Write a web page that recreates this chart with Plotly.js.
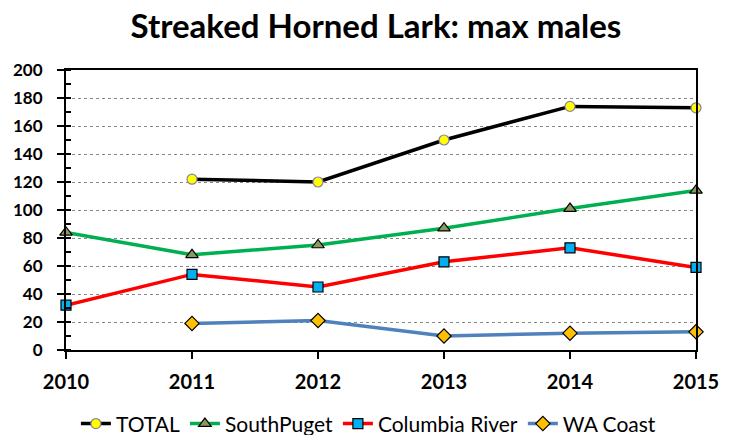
<!DOCTYPE html>
<html><head><meta charset="utf-8">
<script src="https://cdn.plot.ly/plotly-3.0.1.min.js"></script>
<style>html,body{margin:0;padding:0;background:#fff;}#chart{width:729px;height:435px;}</style>
</head><body><div id="chart"></div>
<script>
const years = [2010, 2011, 2012, 2013, 2014, 2015];
const total = [null, 122, 120, 150, 174, 173];
const southPuget = [84, 68, 75, 87, 101, 114];
const columbiaRiver = [32, 54, 45, 63, 73, 59];
const waCoast = [null, 19, 21, 10, 12, 13];
const seriesNames = ["TOTAL", "SouthPuget", "Columbia River", "WA Coast"];
const yTicks = [0, 20, 40, 60, 80, 100, 120, 140, 160, 180, 200];

function tr(name, y, lineColor, sym, fill, outline, size) {
  return {x: years, y: y, name: name, type: 'scatter', mode: 'lines+markers',
    line: {color: lineColor, width: 3.5}, connectgaps: false, cliponaxis: false,
    marker: {symbol: sym, color: fill, size: size, line: {color: outline, width: 1.2}}};
}
const data = [
  tr(seriesNames[0], total, '#000000', 'circle', '#FFFF00', '#8c7f9a', 10),
  tr(seriesNames[1], southPuget, '#00B050', 'triangle-up', '#8A9A5B', '#000000', 11),
  tr(seriesNames[2], columbiaRiver, '#FF0000', 'square', '#00B0F0', '#000000', 10),
  tr(seriesNames[3], waCoast, '#4F81BD', 'diamond', '#FFC000', '#000000', 11)
];
const layout = {
  width: 729, height: 435,
  margin: {l: 66, r: 33, t: 70, b: 85, autoexpand: false},
  paper_bgcolor: '#fff', plot_bgcolor: '#fff',
  font: {family: 'Lato, "Open Sans", sans-serif', color: '#000'},
  title: {text: '<b>Streaked Horned Lark: max males</b>', xref: 'paper', x: 0.492, xanchor: 'center',
    yref: 'container', y: 0.94, yanchor: 'middle',
    font: {size: 33, family: 'Lato, sans-serif', color: '#000'}},
  xaxis: {range: [2010, 2015], tickvals: years, ticktext: years.map(String), automargin: false,
    showgrid: false, zeroline: false, showline: true, linecolor: '#000', linewidth: 2, mirror: true,
    ticks: 'outside', ticklen: 7, tickwidth: 2, tickcolor: '#000', ticklabelstandoff: 6,
    tickfont: {size: 20, family: 'Lato, sans-serif', weight: 'bold', color: '#000'}},
  yaxis: {range: [0, 200], tickvals: yTicks, ticktext: yTicks.map(String), automargin: false,
    showgrid: true, gridcolor: '#888', griddash: 'dot', gridwidth: 1, zeroline: false,
    showline: true, linecolor: '#000', linewidth: 2, mirror: true,
    ticks: 'outside', ticklen: 7, tickwidth: 2, tickcolor: '#000', ticklabelstandoff: 11,
    minor: {dtick: 10, tick0: 0, ticks: 'inside', ticklen: 5, tickwidth: 1.5, tickcolor: '#000', showgrid: false},
    tickfont: {size: 17, family: 'Lato, sans-serif', weight: 'bold', color: '#000'}},
  legend: {orientation: 'h', x: 0.48, xanchor: 'center', y: -0.264, yanchor: 'middle',
    font: {size: 21, family: 'Lato, sans-serif', color: '#000'}},
  showlegend: true
};
Plotly.newPlot('chart', data, layout, {displayModeBar: false, staticPlot: true});
</script></body></html>
